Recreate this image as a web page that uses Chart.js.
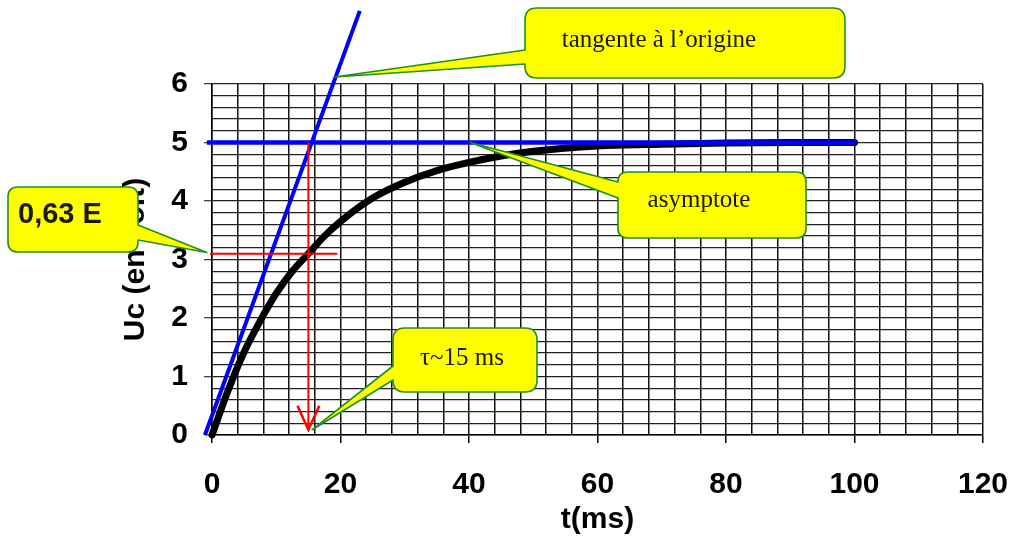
<!DOCTYPE html>
<html lang="fr">
<head>
<meta charset="utf-8">
<title>Charge d'un condensateur</title>
<script src="https://cdn.jsdelivr.net/npm/chart.js@4.4.1/dist/chart.umd.min.js"></script>
<style>
  html, body { margin: 0; padding: 0; background: #fff; }
  #canvas-container { position: relative; width: 1011px; height: 538px; }
</style>
</head>
<body>
<div id="canvas-container"><canvas id="rcChart"></canvas></div>
<script>
// Courbe de charge Uc(t)
const timeMs = [0, 2.5, 5, 7.5, 10, 12.5, 15, 17.5, 20, 25, 30, 35, 40, 45, 50, 60, 70, 80, 90, 100];
const ucVolts = [0, 0.76, 1.42, 1.95, 2.42, 2.8, 3.1, 3.4, 3.65, 4.05, 4.32, 4.52, 4.66, 4.77, 4.85, 4.94, 4.97, 4.99, 5.0, 5.0];

// Tangente à l'origine (extrémités du trait bleu)
const tangentT = [-1.1, 23];
const tangentU = [0, 7.25];

// Asymptote Uc = E
const asymptoteT = [-0.8, 100.3];
const asymptoteU = [5, 5];

// Lecture de tau à 0,63 E
const u63T = [-0.3, 19.5];
const u63U = [3.1, 3.1];
const tauT = [15, 15];
const tauU = [5, 0.09];
const arrowT = [13.3, 15, 16.7];
const arrowU = [0.5, 0.09, 0.5];

const xTickLabels = [0, 20, 40, 60, 80, 100, 120];
const yTickLabels = [0, 1, 2, 3, 4, 5, 6];

const sansFont = "'Liberation Sans', Arial, sans-serif";
const serifFont = "'Liberation Serif', 'Times New Roman', serif";

// Bulles jaunes : boîte en pixels, pointe en coordonnées du graphe
const callouts = [
  { text: "tangente à l’origine", tipT: 19.1, tipU: 6.12,
    bx: 525, by: 8, bw: 320, bh: 70, r: 12, side: "left", baseA: 50, baseB: 64,
    tx: 659, ty: 47, align: "center", font: "25px " + serifFont },
  { text: "asymptote", tipT: 40.2, tipU: 5,
    bx: 618, by: 172, bw: 188, bh: 66, r: 10, side: "left", baseA: 182, baseB: 198,
    tx: 699, ty: 207, align: "center", font: "25px " + serifFont },
  { text: "0,63 E", tipT: -0.8, tipU: 3.12,
    bx: 8, by: 187, bw: 130, bh: 65, r: 10, side: "right", baseA: 225, baseB: 240,
    tx: 18, ty: 223, align: "left", font: "bold 29px " + sansFont },
  { text: "τ~15 ms", tipT: 15.6, tipU: 0.09,
    bx: 393, by: 328, bw: 144, bh: 64, r: 12, side: "left", baseA: 366, baseB: 380,
    tx: 462, ty: 365, align: "center", font: "25px " + serifFont },
];

const calloutPlugin = {
  id: "callouts",
  afterDatasetsDraw(chart) {
    const { ctx } = chart;
    const xScale = chart.scales.x;
    const yScale = chart.scales.y;
    callouts.forEach((c) => {
      const tipX = xScale.getPixelForValue(c.tipT);
      const tipY = yScale.getPixelForValue(c.tipU);
      const { bx, by, bw, bh, r } = c;
      ctx.save();
      ctx.beginPath();
      ctx.moveTo(bx + r, by);
      ctx.lineTo(bx + bw - r, by);
      ctx.quadraticCurveTo(bx + bw, by, bx + bw, by + r);
      if (c.side === "right") {
        ctx.lineTo(bx + bw, c.baseA);
        ctx.lineTo(tipX, tipY);
        ctx.lineTo(bx + bw, c.baseB);
      }
      ctx.lineTo(bx + bw, by + bh - r);
      ctx.quadraticCurveTo(bx + bw, by + bh, bx + bw - r, by + bh);
      ctx.lineTo(bx + r, by + bh);
      ctx.quadraticCurveTo(bx, by + bh, bx, by + bh - r);
      if (c.side === "left") {
        ctx.lineTo(bx, c.baseB);
        ctx.lineTo(tipX, tipY);
        ctx.lineTo(bx, c.baseA);
      }
      ctx.lineTo(bx, by + r);
      ctx.quadraticCurveTo(bx, by, bx + r, by);
      ctx.closePath();
      ctx.fillStyle = "#ffff00";
      ctx.fill();
      ctx.lineWidth = 1.6;
      ctx.strokeStyle = "#1f8f1f";
      ctx.lineJoin = "round";
      ctx.stroke();

      ctx.fillStyle = "#1a1a00";
      ctx.font = c.font;
      ctx.textAlign = c.align;
      ctx.textBaseline = "alphabetic";
      ctx.fillText(c.text, c.tx, c.ty);
      ctx.restore();
    });
  },
};

function toPoints(xs, ys) {
  return xs.map((v, i) => ({ x: v, y: ys[i] }));
}

function isMajorY(v) {
  return Math.abs(v - Math.round(v)) < 1e-6 && yTickLabels.includes(Math.round(v));
}

const lineBase = { pointRadius: 0, fill: false, clip: false, borderCapStyle: "butt" };

const ctx = document.getElementById("rcChart").getContext("2d");

const rcChart = new Chart(ctx, {
  type: "line",
  data: {
    datasets: [
      { ...lineBase, data: toPoints(u63T, u63U), borderColor: "#ff0000", borderWidth: 2 },
      { ...lineBase, data: toPoints(tauT, tauU), borderColor: "#ff0000", borderWidth: 2 },
      { ...lineBase, data: toPoints(arrowT, arrowU), borderColor: "#ff0000", borderWidth: 2.5 },
      { ...lineBase, data: toPoints(tangentT, tangentU), borderColor: "#0000ff", borderWidth: 4 },
      { ...lineBase, data: toPoints(asymptoteT, asymptoteU), borderColor: "#0000ff", borderWidth: 4.5 },
      {
        ...lineBase,
        data: toPoints(timeMs, ucVolts),
        borderColor: "#000000",
        borderWidth: 7,
        borderCapStyle: "round",
        borderJoinStyle: "round",
        cubicInterpolationMode: "monotone",
      },
    ],
  },
  options: {
    responsive: true,
    maintainAspectRatio: false,
    animation: false,
    events: [],
    layout: { padding: { left: 0, right: 28, top: 84, bottom: 0 } },
    plugins: {
      legend: { display: false },
      tooltip: { enabled: false },
    },
    scales: {
      x: {
        type: "linear",
        min: 0,
        max: 120,
        afterFit(scale) {
          scale.height = 103;
          // the "120" label fits inside the right padding
          scale.paddingLeft = 0;
          scale.paddingRight = 0;
        },
        border: { color: "#000", width: 1.5 },
        grid: {
          color: "#111",
          lineWidth: 1.5,
          tickLength: 8,
          tickColor: (c) => (xTickLabels.includes(c.tick.value) ? "#000" : "rgba(0,0,0,0)"),
        },
        ticks: {
          stepSize: 4,
          autoSkip: false,
          maxRotation: 0,
          padding: 24,
          color: "#000",
          font: { family: sansFont, size: 30, weight: "bold" },
          callback: (v) => (xTickLabels.includes(v) ? String(v) : ""),
        },
        title: {
          display: true,
          text: "t(ms)",
          color: "#000",
          padding: { top: 0, bottom: 0 },
          font: { family: sansFont, size: 30, weight: "bold" },
        },
      },
      y: {
        min: 0,
        max: 6,
        afterFit(scale) {
          scale.width = 212;
          scale.paddingTop = 0;
          scale.paddingBottom = 0;
        },
        border: { color: "#000", width: 1.5 },
        grid: {
          color: "#222",
          lineWidth: 1.3,
          tickLength: 8,
          tickColor: (c) => (isMajorY(c.tick.value) ? "#444" : "rgba(0,0,0,0)"),
        },
        ticks: {
          stepSize: 0.2,
          autoSkip: false,
          padding: 16,
          color: "#000",
          font: { family: sansFont, size: 30, weight: "bold" },
          callback: (v) => (isMajorY(v) ? String(Math.round(v)) : ""),
        },
        title: {
          display: true,
          text: "Uc (en volt)",
          color: "#000",
          padding: { top: 118, bottom: 0 },
          font: { family: sansFont, size: 30, weight: "bold" },
        },
      },
    },
  },
  plugins: [calloutPlugin],
});
</script>
</body>
</html>
